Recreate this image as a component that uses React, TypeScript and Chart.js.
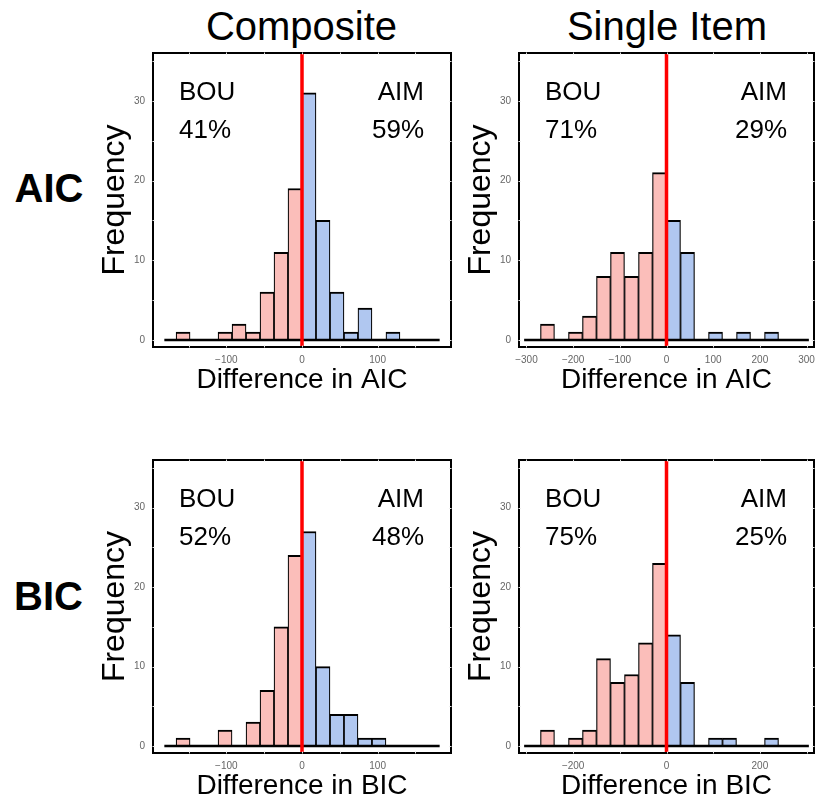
import React, { useEffect, useRef } from "react";
import { Chart, registerables } from "chart.js";
Chart.register(...registerables);

// ---- data ----
const compBinWidth = 18.5;
const compBinStart = -166.5;
const singleBinWidth = 30;
const singleBinStart = -270;

const compAicCounts = [1, 0, 0, 1, 2, 1, 6, 11, 19, 31, 15, 6, 1, 4, 0, 1];
const singleAicCounts = [2, 0, 1, 3, 8, 11, 8, 11, 21, 15, 11, 0, 1, 0, 1, 0, 1];
const compBicCounts = [1, 0, 0, 2, 0, 3, 7, 15, 24, 27, 10, 4, 4, 1, 1];
const singleBicCounts = [2, 0, 1, 2, 11, 8, 9, 13, 23, 14, 8, 0, 1, 1, 0, 0, 1];

const compTicks = [-100, 0, 100];
const singleAicTicks = [-300, -200, -100, 0, 100, 200, 300];
const singleBicTicks = [-200, 0, 200];
const yTicks = [0, 10, 20, 30];

// frame minor-tick marks
const compFrameTicks = [-150, -100, -50, 0, 50, 100, 150];
const singleFrameTicks = [-300, -200, -100, 0, 100, 200, 300];
const yFrameTicks = [0, 5, 10, 15, 20, 25, 30, 35];

const compRange = [-197, 197];
const singleRange = [-316, 316];
const compBaseline = [-182, 182];
const singleBaseline = [-305, 305];
const yRange = [-0.88, 36];

const leftLabels = ["BOU", "BOU", "BOU", "BOU"];
const rightLabels = ["AIM", "AIM", "AIM", "AIM"];
const leftPcts = ["41%", "71%", "52%", "75%"];
const rightPcts = ["59%", "29%", "48%", "25%"];
const xTitles = ["Difference in AIC", "Difference in AIC", "Difference in BIC", "Difference in BIC"];
const colTitles = ["Composite", "Single Item"];
const rowTitles = ["AIC", "BIC"];

const FONT = "'Liberation Sans', Arial, Helvetica, sans-serif";
const PINK = "rgb(251,190,186)";
const BLUE = "rgb(176,199,240)";

type PanelProps = {
  idx: number;
  counts: number[];
  binStart: number;
  binWidth: number;
  range: number[];
  baseline: number[];
  ticks: number[];
  frameTicks: number[];
  left: number;
  top: number;
  width: number;
  height: number;
  padTop: number;
  padRight: number;
  yAxisW: number;
  xAxisH: number;
  xTitlePad: number;
};

function fmt(v: number) {
  return v < 0 ? "\u2212" + Math.abs(v) : String(v);
}

function Panel(p: PanelProps) {
  const ref = useRef<HTMLCanvasElement | null>(null);
  useEffect(() => {
    if (!ref.current) return;
    const barData = p.counts.map((c, i) => ({ x: p.binStart + (i + 0.5) * p.binWidth, y: c }));
    const colors = barData.map((d) => (d.x < 0 ? PINK : BLUE));
    const textPlugin = {
      id: "cornerText" + p.idx,
      afterDatasetsDraw(chart: any) {
        const { ctx, chartArea: a } = chart;
        const xs = chart.scales.x;
        const ys = chart.scales.y;
        ctx.save();
        ctx.fillStyle = "#000";
        ctx.font = `26px ${FONT}`;
        ctx.textBaseline = "alphabetic";
        ctx.textAlign = "left";
        ctx.fillText(leftLabels[p.idx], a.left + 26, a.top + 47);
        ctx.fillText(leftPcts[p.idx], a.left + 26, a.top + 85);
        ctx.textAlign = "right";
        ctx.fillText(rightLabels[p.idx], a.right - 27, a.top + 47);
        ctx.fillText(rightPcts[p.idx], a.right - 27, a.top + 85);
        ctx.lineWidth = 2;
        ctx.strokeStyle = "#000";
        ctx.strokeRect(a.left, a.top, a.right - a.left, a.bottom - a.top);
        // light frame tick notches
        ctx.strokeStyle = "#dcdcdc";
        ctx.lineWidth = 1;
        ctx.beginPath();
        p.frameTicks.forEach((v) => {
          const px = Math.round(xs.getPixelForValue(v)) + 0.5;
          ctx.moveTo(px, a.top - 0.5);
          ctx.lineTo(px, a.top + 1.5);
          ctx.moveTo(px, a.bottom - 1.5);
          ctx.lineTo(px, a.bottom + 0.5);
        });
        yFrameTicks.forEach((v) => {
          const py = Math.round(ys.getPixelForValue(v)) + 0.5;
          ctx.moveTo(a.left - 0.5, py);
          ctx.lineTo(a.left + 1.5, py);
          ctx.moveTo(a.right - 1.5, py);
          ctx.lineTo(a.right + 0.5, py);
        });
        ctx.stroke();
        ctx.restore();
      },
    };
    const chart = new Chart(ref.current, {
      type: "bar",
      data: {
        datasets: [
          {
            type: "line",
            data: [
              { x: 0, y: yRange[0] },
              { x: 0, y: yRange[1] },
            ],
            borderColor: "rgb(255,0,0)",
            borderWidth: 3.5,
            pointRadius: 0,
            order: 0,
          } as any,
          {
            type: "line",
            data: [
              { x: p.baseline[0], y: 0 },
              { x: p.baseline[1], y: 0 },
            ],
            borderColor: "#000",
            borderWidth: 2.5,
            pointRadius: 0,
            order: 1,
          } as any,
          {
            type: "bar",
            data: barData,
            backgroundColor: colors,
            borderColor: "#000",
            borderWidth: { top: 2, left: 1.2, right: 1.2, bottom: 0 },
            borderSkipped: false,
            barPercentage: 1,
            categoryPercentage: 1,
            order: 2,
          } as any,
        ],
      },
      options: {
        responsive: false,
        animation: false,
        devicePixelRatio: 1,
        layout: { padding: { top: p.padTop, right: p.padRight, left: 0, bottom: 0 } },
        plugins: { legend: { display: false }, tooltip: { enabled: false } },
        scales: {
          x: {
            type: "linear",
            min: p.range[0],
            max: p.range[1],
            offset: false,
            grid: { display: false, drawTicks: false },
            border: { display: false },
            afterBuildTicks: (s: any) => {
              s.ticks = p.ticks.map((v) => ({ value: v }));
            },
            afterFit: (s: any) => {
              s.height = p.xAxisH;
              s.paddingLeft = 0;
              s.paddingRight = 0;
            },
            ticks: {
              padding: 7,
              color: "#666",
              font: { family: FONT, size: 10 },
              maxRotation: 0,
              autoSkip: false,
              callback: (v: any) => fmt(Number(v)),
            },
            title: {
              display: true,
              text: xTitles[p.idx],
              color: "#000",
              font: { family: FONT, size: 28, lineHeight: 1 },
              padding: { top: 0, bottom: p.xTitlePad },
            },
          },
          y: {
            type: "linear",
            min: yRange[0],
            max: yRange[1],
            grid: { display: false, drawTicks: false },
            border: { display: false },
            afterBuildTicks: (s: any) => {
              s.ticks = yTicks.map((v) => ({ value: v }));
            },
            afterFit: (s: any) => {
              s.width = p.yAxisW;
              s.paddingTop = 0;
              s.paddingBottom = 0;
            },
            ticks: {
              padding: 8,
              color: "#666",
              font: { family: FONT, size: 10 },
              callback: (v: any) => fmt(Number(v)),
            },
            title: {
              display: true,
              text: "Frequency",
              color: "#000",
              font: { family: FONT, size: 32, lineHeight: 1 },
              padding: { top: 9, bottom: 0 },
            },
          },
        },
      } as any,
      plugins: [textPlugin],
    });
    return () => chart.destroy();
  }, []);
  return (
    <canvas
      ref={ref}
      width={p.width}
      height={p.height}
      style={{ position: "absolute", left: p.left, top: p.top, width: p.width, height: p.height }}
    />
  );
}

export default function App() {
  const textStyle: React.CSSProperties = {
    position: "absolute",
    fontFamily: FONT,
    color: "#000",
    lineHeight: "40px",
    fontSize: 40,
    textAlign: "center",
    whiteSpace: "nowrap",
  };
  return (
    <div style={{ position: "absolute", left: 0, top: 0, width: 817, height: 803, overflow: "hidden", background: "#fff" }}>
      <div style={{ ...textStyle, left: 101.5, width: 400, top: 6 }}>{colTitles[0]}</div>
      <div style={{ ...textStyle, left: 467, width: 400, top: 6 }}>{colTitles[1]}</div>
      <div style={{ ...textStyle, left: 0, width: 98, top: 168, fontWeight: "bold" }}>{rowTitles[0]}</div>
      <div style={{ ...textStyle, left: 0, width: 97, top: 576, fontWeight: "bold" }}>{rowTitles[1]}</div>
      <Panel idx={0} counts={compAicCounts} binStart={compBinStart} binWidth={compBinWidth} range={compRange}
        baseline={compBaseline} ticks={compTicks} frameTicks={compFrameTicks} left={90} top={40} width={370} height={365}
        padTop={13} padRight={9} yAxisW={63} xAxisH={58} xTitlePad={11} />
      <Panel idx={1} counts={singleAicCounts} binStart={singleBinStart} binWidth={singleBinWidth} range={singleRange}
        baseline={singleBaseline} ticks={singleAicTicks} frameTicks={singleFrameTicks} left={456} top={40} width={361} height={365}
        padTop={13} padRight={3} yAxisW={63} xAxisH={58} xTitlePad={11} />
      <Panel idx={2} counts={compBicCounts} binStart={compBinStart} binWidth={compBinWidth} range={compRange}
        baseline={compBaseline} ticks={compTicks} frameTicks={compFrameTicks} left={90} top={447} width={370} height={356}
        padTop={13} padRight={9} yAxisW={63} xAxisH={50} xTitlePad={3} />
      <Panel idx={3} counts={singleBicCounts} binStart={singleBinStart} binWidth={singleBinWidth} range={singleRange}
        baseline={singleBaseline} ticks={singleBicTicks} frameTicks={singleFrameTicks} left={456} top={447} width={361} height={356}
        padTop={13} padRight={3} yAxisW={63} xAxisH={50} xTitlePad={3} />
    </div>
  );
}
